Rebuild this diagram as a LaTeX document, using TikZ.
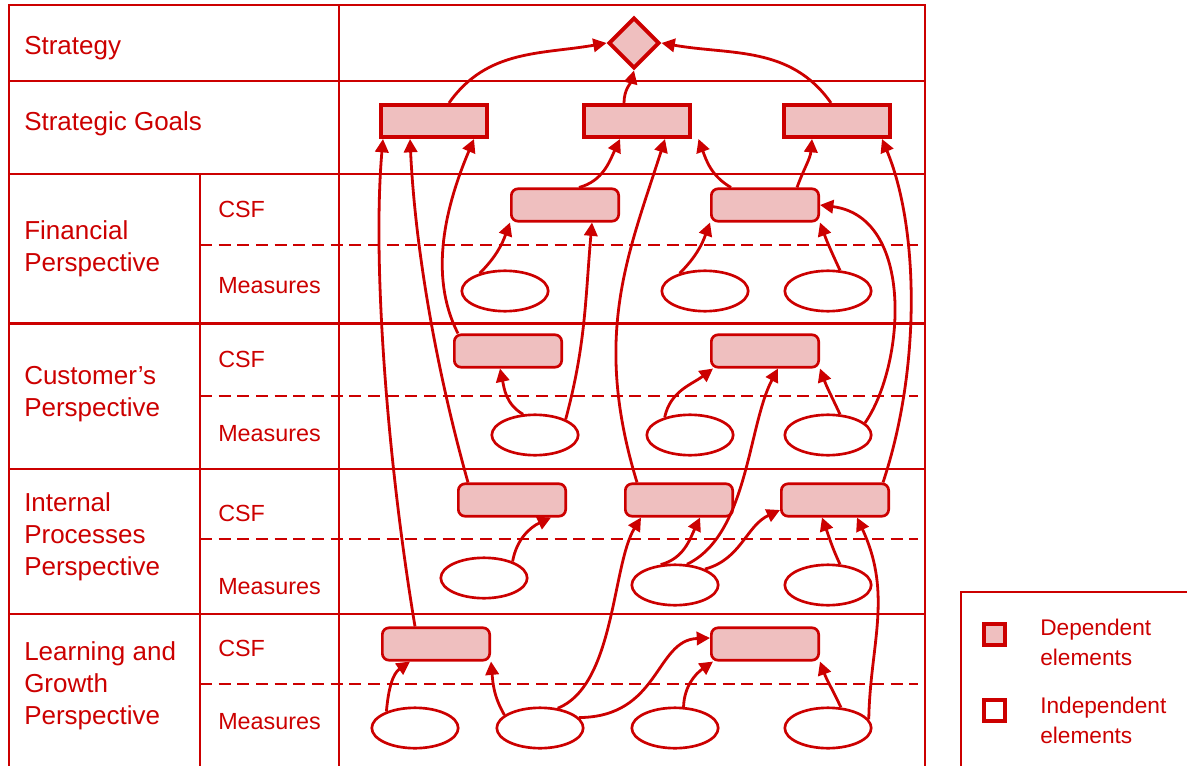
\documentclass[tikz,border=0pt]{standalone}
\usepackage{fontspec}
\setmainfont{Liberation Sans}
\usepackage{tikz}
\usetikzlibrary{arrows.meta,positioning,calc,shapes.geometric}
\usepackage{xcolor}
\definecolor{bscred}{HTML}{CC0000}
\definecolor{bscpink}{HTML}{EFBFBF}
\tikzset{
  rule/.style    = {draw=bscred, line width=1.75pt},
  split/.style   = {draw=bscred, line width=1.75pt, dash pattern=on 9pt off 5pt},
  goalbox/.style = {draw=bscred, fill=bscpink, line width=3pt, rectangle,
                    minimum width=80.2pt, minimum height=24pt, inner sep=0pt},
  csfbox/.style  = {draw=bscred, fill=bscpink, line width=2pt, rectangle,
                    rounded corners=5pt, minimum width=80.5pt, minimum height=24.3pt,
                    inner sep=0pt},
  measure/.style = {draw=bscred, fill=white, line width=2pt, ellipse,
                    minimum width=64.8pt, minimum height=30.3pt, inner sep=0pt},
  strat/.style   = {draw=bscred, fill=bscpink, line width=3pt, diamond, aspect=1,
                    minimum size=38.2pt, inner sep=0pt},
  legsq/.style   = {draw=bscred, line width=3pt, minimum size=15.75pt, inner sep=0pt},
  link/.style    = {-{Triangle[length=10pt,width=10pt]}, draw=bscred, line width=2.1pt},
  rowlab/.style  = {text=bscred, anchor=west, align=left, inner sep=0pt,
                    font=\fontsize{19.5}{24}\selectfont},
  sublab/.style  = {text=bscred, anchor=west, inner sep=0pt,
                    font=\fontsize{17.5}{21}\selectfont},
  leglab/.style  = {text=bscred, anchor=west, align=left, inner sep=0pt,
                    font=\fontsize{17}{22.5}\selectfont},
}

\begin{document}
\begin{tikzpicture}[x=0.75pt,y=0.75pt]
\useasboundingbox (0,0) rectangle (1187,765);
% ---- table ----
\draw[rule] (9,-10) rectangle (925,760);
\draw[rule] (339,-10) -- (339,760);
\draw[rule] (200,-10) -- (200,591);
\foreach \y in {684,591,441.5,296,151} \draw[rule] (9,\y) -- (925,\y);
\foreach \y in {520,369,226,81} \draw[split] (200,\y) -- (918,\y);
% ---- row labels ----
\node[rowlab,anchor=base west] (strategy) at (24,710) {Strategy};
\node[rowlab,anchor=base west] (goals) at (24,634) {Strategic Goals};
\node[rowlab] (fin) at (24,516.4) {Financial\\Perspective};
\node[rowlab] (cust) at (24,370.7) {Customer's\\Perspective};
\node[rowlab] (intp) at (24,228) {Internal\\Processes\\Perspective};
\node[rowlab] (learn) at (24,79.7) {Learning and\\Growth\\Perspective};
\foreach \yc/\ym [count=\i] in {555.8/479.2, 406/331.2, 251.7/178.3, 117/43.7}{
  \node[sublab] (csf\i) at (218,\yc) {CSF};
  \node[sublab] (msr\i) at (218,\ym) {Measures};}
% ---- elements ----
\node[strat] (D) at (634,722) {};
\node[goalbox] (G1) at (434,644) {};
\node[goalbox] (G2) at (637,644) {};
\node[goalbox] (G3) at (837,644) {};
\foreach \n/\x/\y in {F1/565/560, F2/765/560, C1/508/414, C2/765/414,
    I1/512/265, I2/679/265, I3/835/265, L1/436/121, L2/765/121}
  \node[csfbox] (\n) at (\x,\y) {};
\foreach \n/\x/\y in {FM1/505/474, FM2/705/474, FM3/828/474,
    CM1/535/330, CM2/690/330, CM3/828/330,
    IM1/484/187, IM2/675/180, IM3/828/180,
    LM1/415/37, LM2/540/37, LM3/675/37, LM4/828/37}
  \node[measure] (\n) at (\x,\y) {};
% ---- links up to the strategy ----
\draw[link] ($(G1.north)+(15,0)$) to[out=55,in=190] (D.west);
\draw[link] ($(G3.north)+(-6,0)$) to[out=125,in=-10] (D.east);
\draw[link] ($(G2.north)+(-13,0)$) to[out=90,in=255] (D.south);
% ---- links into the strategic goals ----
\draw[link] ($(F1.north)+(14,0)$) to[out=15,in=245] ($(G2.south)+(-17,0)$);
\draw[link] ($(F2.north)+(-34,0)$) to[out=150,in=-70] ($(G2.south east)+(6,0)$);
\draw[link] ($(F2.north)+(32,0)$) to[out=70,in=265] ($(G3.south)+(-25,0)$);
\draw[link] ($(C1.north west)+(5,0)$) .. controls (428,490) and (446,560) .. ($(G1.south)+(40,0)$);
\draw[link] ($(I1.north west)+(11,0)$) .. controls (435,400) and (415,520) .. ($(G1.south)+(-24,0)$);
\draw[link] ($(L1.north)+(-21,0)$) .. controls (388,300) and (372,500) .. ($(G1.south)+(-51,0)$);
\draw[link] ($(I2.north)+(-42,0)$) .. controls (592,430) and (628,510) .. ($(G2.south)+(28,0)$);
\draw[link] ($(I3.north east)+(-7,0)$) .. controls (922,400) and (918,540) .. ($(G3.south)+(45,0)$);
% ---- financial ----
\draw[link] (FM1.145) to[out=45,in=250] (F1.south west);
\draw[link] (CM1.27) to[out=75,in=265] ($(F1.south)+(27,0)$);
\draw[link] (FM2.145) to[out=45,in=250] (F2.south west);
\draw[link] (FM3.60) to[out=115,in=290] (F2.south east);
\draw[link] (CM3.18) .. controls (905,400) and (915,548) .. (F2.east);
% ---- customer ----
\draw[link] (CM1.120) to[out=150,in=-78] ($(C1.south)+(-8,0)$);
\draw[link] (CM2.145) to[out=78,in=217] ($(C2.south west)+(3,0)$);
\draw[link] (IM2.60) .. controls (748,230) and (748,340) .. ($(C2.south)+(13,0)$);
\draw[link] (CM3.60) to[out=115,in=290] (C2.south east);
% ---- internal processes ----
\draw[link] (IM1.30) to[out=80,in=205] ($(I1.south east)+(-16,0)$);
\draw[link] (IM2.125) to[out=15,in=245] ($(I2.south)+(21,0)$);
\draw[link] (IM2.28) to[out=15,in=205] ($(I3.west)+(0,-10)$);
\draw[link] (IM3.60) to[out=115,in=290] ($(I3.south)+(-13,0)$);
\draw[link] (LM2.48) .. controls (615,80) and (612,200) .. ($(I2.south west)+(17,0)$);
\draw[link] (LM4.12) .. controls (870,120) and (893,170) .. ($(I3.south)+(22,0)$);
% ---- learning and growth ----
\draw[link] (LM1.150) to[out=85,in=215] ($(L1.south)+(-26,0)$);
\draw[link] (LM2.160) to[out=120,in=-85] (L1.south east);
\draw[link] (LM2.15) .. controls (660,48) and (655,125) .. ($(L2.west)+(0,6)$);
\draw[link] (LM3.68) to[out=88,in=215] ($(L2.south west)+(3,0)$);
\draw[link] (LM4.58) to[out=115,in=290] (L2.south east);
% ---- legend ----
\draw[rule] (961,-10) rectangle (1200,173);
\node[legsq,fill=bscpink] (keydep) at (994.8,130.5) {};
\node[legsq,fill=white] (keyind) at (994.8,54.8) {};
\node[leglab] (keydeptxt) at (1040,122.8) {Dependent\\elements};
\node[leglab] (keyindtxt) at (1040,45.1) {Independent\\elements};
\end{tikzpicture}
\end{document}
